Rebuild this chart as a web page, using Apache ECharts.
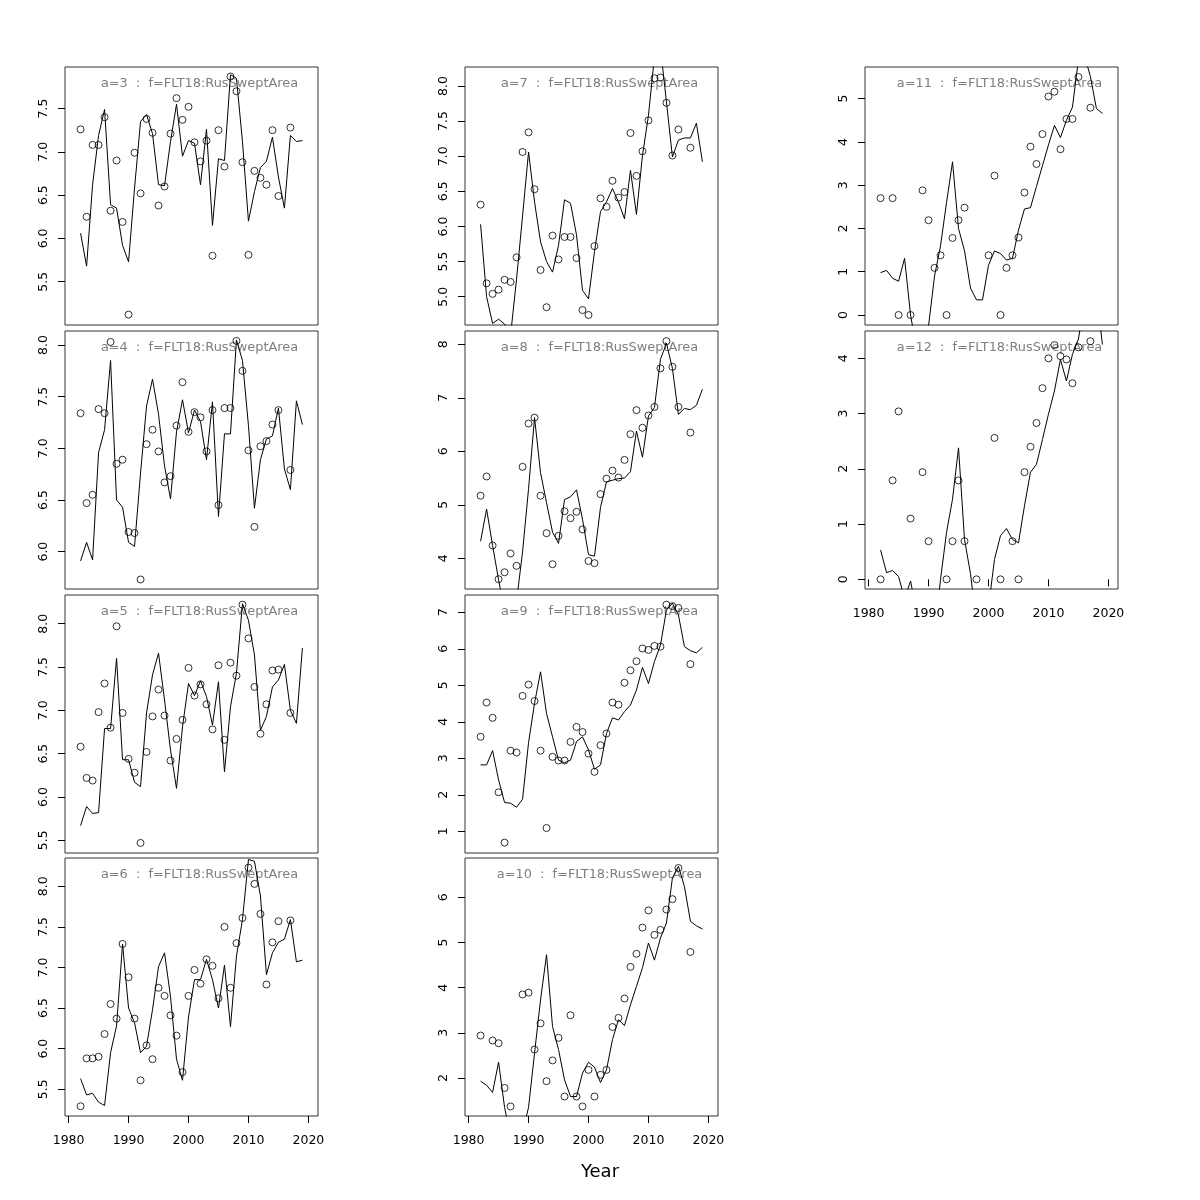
<!DOCTYPE html>
<html><head><meta charset="utf-8">
<script src="https://cdn.jsdelivr.net/npm/echarts@6/dist/echarts.min.js"></script>
<style>html,body{margin:0;padding:0;background:#fff}#c{width:1200px;height:1200px}</style>
</head><body><div id="c"></div>
<script>
// ---- data ----
const years = [1982,1983,1984,1985,1986,1987,1988,1989,1990,1991,1992,1993,1994,1995,1996,1997,1998,1999,2000,2001,2002,2003,2004,2005,2006,2007,2008,2009,2010,2011,2012,2013,2014,2015,2016,2017,2018,2019];
const yearTicks = [1980,1990,2000,2010,2020];
const panelNames = ['a=3','a=4','a=5','a=6','a=7','a=8','a=9','a=10','a=11','a=12'];
const fleetLabel = 'f=FLT18:RusSweptArea';

const obsA3 = [7.26,6.25,7.08,7.08,7.40,6.32,6.90,6.19,5.12,6.99,6.52,7.38,7.22,6.38,6.60,7.21,7.62,7.37,7.52,7.11,6.89,7.13,5.80,7.25,6.83,7.87,7.70,6.88,5.81,6.78,6.70,6.62,7.25,6.49,null,7.28,null,null];
const fitA3 = [6.06,5.68,6.62,7.19,7.49,6.39,6.35,5.92,5.73,6.58,7.35,7.43,7.21,6.62,6.61,7.12,7.55,6.95,7.13,7.10,6.62,7.26,6.15,6.92,6.90,7.89,7.85,7.12,6.20,6.54,6.82,6.89,7.17,6.71,6.35,7.19,7.12,7.13];
const obsA4 = [7.34,6.47,6.55,7.38,7.34,8.03,6.85,6.89,6.19,6.18,5.73,7.04,7.18,6.97,6.67,6.73,7.22,7.64,7.16,7.35,7.30,6.97,7.37,6.45,7.39,7.39,8.04,7.75,6.98,6.24,7.02,7.07,7.23,7.37,null,6.79,null,null];
const fitA4 = [5.91,6.09,5.92,6.96,7.18,7.85,6.50,6.43,6.09,6.05,6.76,7.41,7.67,7.33,6.83,6.51,7.16,7.47,7.15,7.37,7.26,6.89,7.45,6.34,7.14,7.14,8.05,7.85,7.22,6.42,6.89,7.09,7.12,7.39,6.80,6.60,7.46,7.23];
const obsA5 = [6.58,6.22,6.19,6.98,7.31,6.80,7.97,6.97,6.44,6.28,5.47,6.52,6.93,7.24,6.94,6.42,6.67,6.89,7.49,7.17,7.30,7.07,6.78,7.52,6.66,7.55,7.40,8.22,7.83,7.27,6.73,7.07,7.46,7.47,null,6.97,null,null];
const fitA5 = [5.67,5.89,5.81,5.82,6.79,6.79,7.60,6.43,6.43,6.17,6.12,6.97,7.41,7.66,7.12,6.54,6.10,6.81,7.31,7.17,7.34,7.16,6.83,7.33,6.29,7.04,7.43,8.23,8.04,7.64,6.77,6.93,7.27,7.35,7.53,7.00,6.85,7.72];
const obsA6 = [5.29,5.88,5.88,5.90,6.18,6.55,6.37,7.29,6.88,6.37,5.61,6.04,5.87,6.75,6.65,6.41,6.16,5.71,6.65,6.97,6.80,7.10,7.02,6.62,7.50,6.75,7.30,7.61,8.23,8.03,7.66,6.79,7.31,7.57,null,7.58,null,null];
const fitA6 = [5.63,5.43,5.45,5.34,5.30,5.95,6.28,7.29,6.50,6.32,5.95,6.03,6.48,7.01,7.18,6.64,5.87,5.61,6.39,6.85,6.85,7.10,6.85,6.50,7.03,6.27,7.14,7.59,8.33,8.31,7.88,6.91,7.18,7.31,7.35,7.59,7.07,7.09];
const obsA7 = [6.31,5.19,5.04,5.10,5.24,5.21,5.56,7.06,7.34,6.53,5.38,4.85,5.87,5.53,5.85,5.85,5.55,4.81,4.74,5.72,6.40,6.28,6.65,6.41,6.49,7.33,6.72,7.07,7.51,8.11,8.12,7.76,7.01,7.38,null,7.12,null,null];
const fitA7 = [6.03,5.00,4.62,4.68,4.61,4.45,5.25,6.15,7.06,6.35,5.78,5.50,5.35,5.73,6.38,6.33,5.88,5.09,4.97,5.64,6.21,6.35,6.54,6.35,6.11,6.80,6.17,7.01,7.58,8.42,8.55,7.77,6.99,7.23,7.26,7.26,7.47,6.92];
const obsA8 = [5.17,5.53,4.24,3.61,3.74,4.09,3.86,5.71,6.52,6.63,5.17,4.47,3.89,4.42,4.88,4.75,4.87,4.54,3.95,3.91,5.20,5.49,5.64,5.51,5.84,6.32,6.77,6.44,6.67,6.83,7.55,8.06,7.58,6.83,null,6.35,null,null];
const fitA8 = [4.32,4.92,4.24,3.60,3.00,3.00,3.20,4.12,5.30,6.63,5.60,5.04,4.49,4.28,5.10,5.15,5.28,4.73,4.07,4.04,4.95,5.43,5.46,5.49,5.50,5.62,6.38,5.89,6.66,6.82,7.72,8.02,7.55,6.69,6.80,6.78,6.86,7.16];
const obsA9 = [3.59,4.53,4.11,2.07,0.69,3.21,3.16,4.71,5.02,4.57,3.21,1.09,3.04,2.94,2.94,3.45,3.86,3.72,3.13,2.63,3.36,3.68,4.53,4.47,5.07,5.41,5.66,6.01,5.97,6.08,6.06,7.21,7.17,7.12,null,5.58,null,null];
const fitA9 = [2.82,2.82,3.21,2.41,1.79,1.77,1.66,1.88,3.43,4.51,5.37,4.23,3.59,2.95,2.88,2.95,3.46,3.59,3.23,2.70,2.82,3.68,4.11,4.05,4.28,4.46,4.87,5.49,5.05,5.65,6.10,7.06,7.25,6.93,6.06,5.95,5.89,6.04];
const obsA10 = [2.94,null,2.83,2.77,1.78,1.37,null,3.85,3.89,2.63,3.21,1.93,2.39,2.89,1.59,3.39,1.59,1.37,2.18,1.59,2.07,2.18,3.13,3.33,3.76,4.46,4.75,5.33,5.71,5.17,5.28,5.73,5.96,6.65,null,4.79,null,null];
const fitA10 = [1.93,1.84,1.68,2.35,1.35,0.70,0.60,0.80,1.35,2.55,3.73,4.73,3.14,2.63,1.96,1.59,1.59,2.11,2.35,2.24,1.90,2.18,2.85,3.29,3.16,3.62,4.03,4.44,4.99,4.61,5.10,5.43,6.43,6.69,6.24,5.47,5.37,5.30];
const obsA11 = [2.70,null,2.70,0,null,0,null,2.88,2.19,1.09,1.38,0,1.78,2.19,2.48,null,null,null,1.38,3.22,0,1.09,1.38,1.79,2.83,3.89,3.49,4.18,5.05,5.16,3.83,4.53,4.53,5.50,null,4.79,null,null];
const fitA11 = [0.98,1.03,0.85,0.78,1.31,0.00,-0.80,-0.80,-0.25,0.90,1.60,2.60,3.54,2.00,1.48,0.62,0.35,0.35,1.15,1.48,1.42,1.27,1.31,1.96,2.45,2.48,2.97,3.45,3.93,4.38,4.10,4.50,4.80,5.90,6.00,5.51,4.77,4.66];
const obsA12 = [0,null,1.79,3.04,null,1.10,null,1.94,0.69,null,null,0,0.69,1.79,0.69,null,0,null,null,2.56,0,null,0.69,0,1.94,2.40,2.83,3.46,4.00,4.24,4.04,3.98,3.55,4.20,null,4.31,null,null];
const fitA12 = [0.53,0.12,0.16,0.05,-0.35,-0.03,-0.60,-0.80,-0.90,-1.00,0.00,0.85,1.45,2.38,0.72,0.10,-0.80,-1.00,-0.50,0.36,0.79,0.92,0.72,0.66,1.33,1.94,2.08,2.53,2.99,3.41,3.98,3.59,4.07,4.35,5.00,5.20,5.20,4.25];

const ticksA3 = [5.5,6.0,6.5,7.0,7.5];
const ticksA4 = [6.0,6.5,7.0,7.5,8.0];
const ticksA5 = [5.5,6.0,6.5,7.0,7.5,8.0];
const ticksA6 = [5.5,6.0,6.5,7.0,7.5,8.0];
const ticksA7 = [5.0,5.5,6.0,6.5,7.0,7.5,8.0];
const ticksA8 = [4,5,6,7,8];
const ticksA9 = [1,2,3,4,5,6,7];
const ticksA10 = [2,3,4,5,6];
const ticksA11 = [0,1,2,3,4,5];
const ticksA12 = [0,1,2,3,4];

// ---- layout / scales ----
const obsList = [obsA3,obsA4,obsA5,obsA6,obsA7,obsA8,obsA9,obsA10,obsA11,obsA12];
const fitList = [fitA3,fitA4,fitA5,fitA6,fitA7,fitA8,fitA9,fitA10,fitA11,fitA12];
const tickList = [ticksA3,ticksA4,ticksA5,ticksA6,ticksA7,ticksA8,ticksA9,ticksA10,ticksA11,ticksA12];
const yRange = [[5.0,7.98],[5.638,8.136],[5.354,8.331],[5.17,8.349],[4.597,8.27],[3.427,8.249],[0.406,7.475],[1.159,6.871],[-0.231,5.731],[-0.175,4.495]];
const decimals = [1,1,1,1,1,0,0,0,0,0];
const pos = [[0,0],[0,1],[0,2],[0,3],[1,0],[1,1],[1,2],[1,3],[2,0],[2,1]];
const bottomPanel = [false,false,false,true,false,false,false,true,false,true];
const colLeft = [65,465,865];
const rowTop = [67,331,595,858];
const W = 253, H = 258;
const FONT = 'DejaVu Sans';

const grid = [], xAxis = [], yAxis = [], series = [], graphic = [];
panelNames.forEach((nm, i) => {
  const [c, r] = pos[i];
  grid.push({left: colLeft[c], top: rowTop[r], width: W, height: H, show: true,
    borderColor: '#333', borderWidth: 1, backgroundColor: 'transparent', containLabel: false, outerBoundsMode: 'none'});
  const bot = bottomPanel[i];
  xAxis.push({type: 'value', gridIndex: i, min: 1979.4, max: 2021.6,
    splitLine: {show: false}, axisLine: {show: false},
    axisTick: {show: bot, length: 7, lineStyle: {color: '#000'}, customValues: yearTicks},
    axisLabel: {show: bot, customValues: yearTicks, margin: 18, fontSize: 12.5, color: '#000', fontFamily: FONT,
      formatter: v => String(Math.round(v))}});
  const dec = decimals[i];
  yAxis.push({type: 'value', gridIndex: i, min: yRange[i][0], max: yRange[i][1],
    splitLine: {show: false}, axisLine: {show: false},
    axisTick: {show: true, length: 7, lineStyle: {color: '#000'}, customValues: tickList[i]},
    axisLabel: {show: true, customValues: tickList[i], rotate: 90, margin: 15, fontSize: 12.5, color: '#000', fontFamily: FONT,
      formatter: v => Number(v).toFixed(dec)}});
  series.push({type: 'line', xAxisIndex: i, yAxisIndex: i, data: years.map((y, k) => [y, fitList[i][k]]),
    showSymbol: false, symbol: 'none', clip: true, silent: true, animation: false,
    lineStyle: {color: '#000', width: 1}});
  series.push({type: 'scatter', xAxisIndex: i, yAxisIndex: i,
    data: years.map((y, k) => [y, obsList[i][k]]).filter(d => d[1] !== null),
    symbol: 'circle', symbolSize: 7, clip: true, silent: true, animation: false,
    itemStyle: {color: 'rgba(0,0,0,0)', borderColor: '#000', borderWidth: 1}});
  graphic.push({type: 'text', x: colLeft[c] + 134.5, y: rowTop[r] + 16.5, silent: true,
    style: {text: nm + '  :  ' + fleetLabel, fill: '#7f7f7f', font: '12.9px "DejaVu Sans"', align: 'center', verticalAlign: 'middle'}});
});
graphic.push({type: 'text', x: 600, y: 1172, silent: true,
  style: {text: 'Year', fill: '#000', font: '18px "DejaVu Sans"', align: 'center', verticalAlign: 'middle'}});

const chart = echarts.init(document.getElementById('c'), null, {renderer: 'canvas'});
chart.setOption({animation: false, backgroundColor: '#fff', grid, xAxis, yAxis, series, graphic});
</script></body></html>
